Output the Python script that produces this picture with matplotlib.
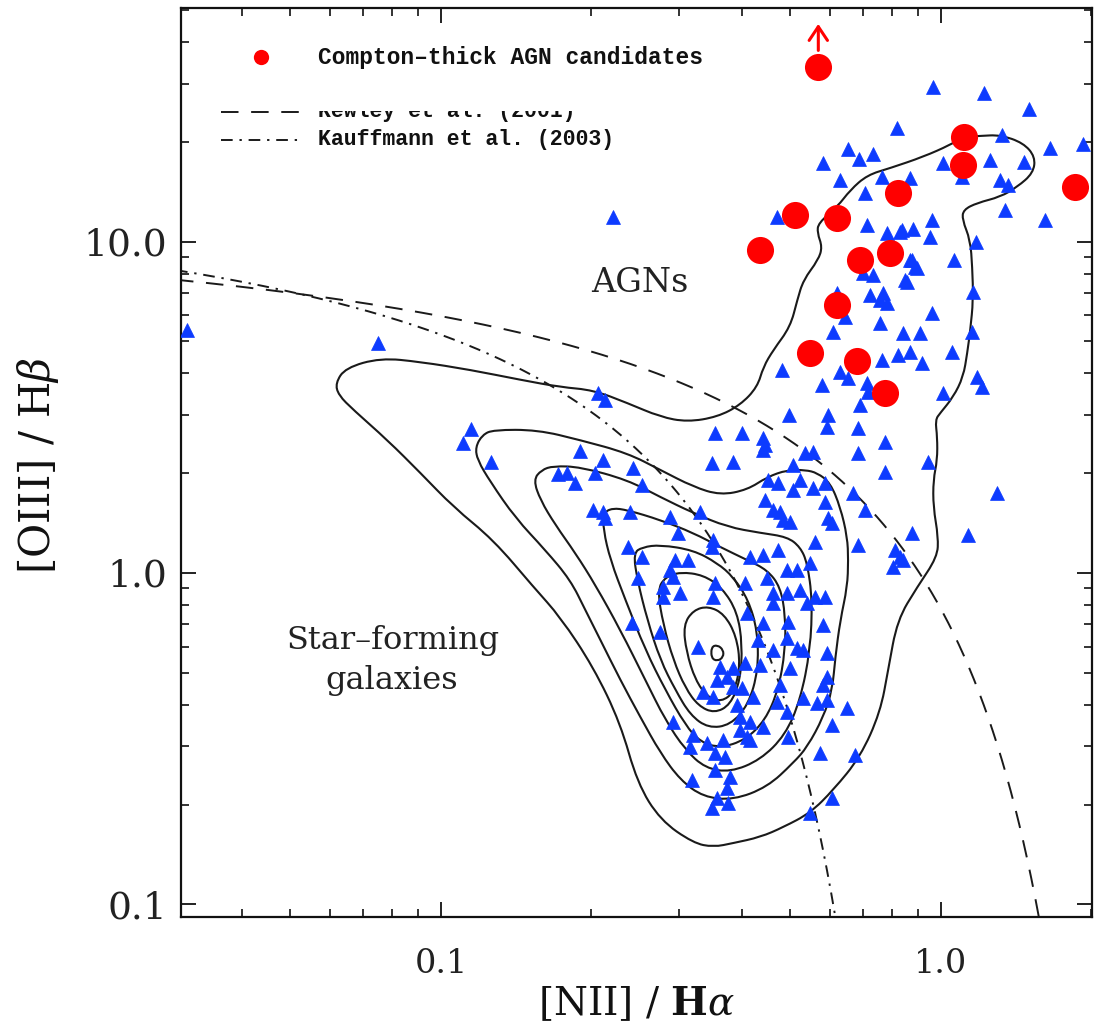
import numpy as np
import matplotlib
matplotlib.use("Agg")
import matplotlib.pyplot as plt
from matplotlib.path import Path
from matplotlib.patches import PathPatch, Rectangle
from matplotlib.ticker import LogLocator, FixedLocator, FuncFormatter, NullFormatter

plt.rcParams["mathtext.fontset"] = "dejavuserif"

# ---------------- data (log10 of the line ratios) ----------------
# comparison sample (blue triangles)
sample_log_nii = [-1.125, -0.939, -0.955, -0.899, -0.765, -0.747, -0.731, -0.721, -0.317, -0.303,
                  -0.685, -0.671, -0.451, -0.397, -0.355, -0.351, -0.355, -0.457, -0.415, -0.675,
                  -0.691, -0.615, -0.597, -0.271, -0.255, -0.295, -0.345, -0.325, -0.281, -0.295,
                  -0.255, -0.351, -0.335, -0.321, -0.315, -0.301, -0.695, -0.675, -0.671, -0.621,
                  -0.541, -0.481, -0.525, -0.455, -0.457, -0.625, -0.597, -0.251, -0.381, -0.355,
                  -0.325, -0.531, -0.505, -0.541, -0.535, -0.605, -0.307, -0.287, -0.261, -0.391,
                  -0.347, -0.451, -0.555, -0.521, -0.555, -0.455, -0.335, -0.307, -0.281, -0.251,
                  -0.617, -0.561, -0.485, -0.441, -0.415, -0.391, -0.361, -0.387, -0.355, -0.335,
                  -0.305, -0.267, -0.231, -0.235, -0.365, -0.307, -0.287, -0.275, -0.335, -0.227,
                  -0.301, -0.227, -0.235, -0.447, -0.427, -0.415, -0.397, -0.475, -0.455, -0.375,
                  -0.321, -0.327, -0.307, -0.275, -0.247, -0.227, -0.187, -0.407, -0.401, -0.381,
                  -0.355, -0.401, -0.387, -0.381, -0.535, -0.495, -0.501, -0.467, -0.435, -0.451,
                  -0.431, -0.305, -0.217, -0.241, -0.171, -0.451, -0.421, -0.497, -0.427, -0.447,
                  -0.425, -0.457, -0.217, -0.261,
                  -0.015, -0.087, -0.185, -0.135, -0.163, -0.235, 0.005, -0.201, -0.117, -0.061,
                  -0.151, -0.327, -0.147, -0.107, -0.081, -0.055, -0.017, -0.021, -0.061, -0.047,
                  -0.155, -0.135, -0.067, -0.141, -0.115, -0.107, -0.121, -0.207, -0.191, -0.017,
                  -0.121, -0.215, -0.075, -0.041,
                  0.087, 0.177, 0.123, 0.219, 0.285, 0.043, 0.099, 0.167, 0.119, 0.135,
                  0.129, 0.209, -0.077, 0.071, 0.027, -0.057, -0.051, -0.071, 0.065,
                  0.063, 0.023, -0.061, -0.085, -0.117, -0.037, -0.201, -0.185, -0.237, -0.147,
                  -0.145, 0.073, 0.083, 0.005, -0.161, -0.225, -0.227, -0.165, -0.111, -0.165,
                  -0.025, -0.111, -0.175, 0.113, -0.231, -0.151, -0.225, -0.217, -0.057, 0.055,
                  -0.165, -0.091, -0.081, -0.075, -0.095, -0.231, -0.655, -1.507]
sample_log_oiii = [0.694, 0.435, 0.392, 0.335, 0.299, 0.302, 0.272, 0.368, 0.613, 0.477,
                   0.543, 0.522, 0.423, 0.423, 0.407, 0.386, 0.371, 0.332, 0.335, 0.341,
                   0.302, 0.317, 0.266, 0.362, 0.365, 0.326, 0.281, 0.272, 0.281, 0.251,
                   0.257, 0.220, 0.190, 0.184, 0.160, 0.154, 0.190, 0.184, 0.166, 0.184,
                   0.169, 0.184, 0.121, 0.100, 0.078, 0.078, 0.048, 0.094, 0.048, 0.054,
                   0.069, 0.039, 0.039, 0.009, -0.012, -0.015, 0.009, 0.009, 0.030, -0.030,
                   -0.015, -0.030, -0.042, -0.060, -0.072, -0.072, -0.060, -0.060, -0.051, -0.072,
                   -0.151, -0.178, -0.223, -0.284, -0.287, -0.272, -0.278, -0.121, -0.151, -0.091,
                   -0.148, -0.091, -0.072, -0.157, -0.202, -0.196, -0.226, -0.232, -0.232, -0.241,
                   -0.287, -0.314, -0.338, -0.323, -0.314, -0.344, -0.347, -0.359, -0.374, -0.374,
                   -0.338, -0.389, -0.420, -0.377, -0.392, -0.383, -0.407, -0.398, -0.435, -0.450,
                   -0.465, -0.474, -0.495, -0.504, -0.450, -0.489, -0.525, -0.513, -0.504, -0.543,
                   -0.555, -0.495, -0.459, -0.543, -0.549, -0.595, -0.616, -0.625, -0.649, -0.679,
                   -0.694, -0.709, -0.679, -0.724,
                   1.467, 1.343, 1.280, 1.265, 1.250, 1.238, 1.238, 1.186, 1.195, 1.192,
                   1.147, 1.075, 1.050, 1.026, 1.029, 1.038, 1.066, 1.014, 0.945, 0.921,
                   0.906, 0.899, 0.878, 0.839, 0.845, 0.815, 0.824, 0.845, 0.773, 0.785,
                   0.755, 0.727, 0.724, 0.724,
                   1.449, 1.401, 1.322, 1.283, 1.295, 1.195, 1.247, 1.241, 1.186, 1.171,
                   1.096, 1.066, 1.035, 0.999, 0.945, 0.945, 0.924, 0.884, 0.848,
                   0.727, 0.667, 0.667, 0.658, 0.643, 0.634, 0.607, 0.589, 0.567, 0.573,
                   0.546, 0.592, 0.561, 0.543, 0.507, 0.477, 0.441, 0.438, 0.395, 0.362,
                   0.335, 0.305, 0.241, 0.241, 0.214, 0.190, 0.166, 0.151, 0.121, 0.115,
                   0.085, 0.069, 0.048, 0.039, 0.018, 0.272, 1.075, 0.733]

# Compton-thick AGN candidates (red circles); first one is a lower limit
ct_log_nii = [-0.245, 0.047, 0.045, 0.269, -0.085, -0.291, -0.207, -0.361, -0.101, -0.161,
              -0.207, -0.261, -0.167, -0.111]
ct_log_oiii = [1.527, 1.316, 1.232, 1.165, 1.147, 1.081, 1.071, 0.975, 0.966, 0.945,
               0.809, 0.664, 0.640, 0.543]
ct_lower_limit = [True] + [False] * 13

# density contours of the parent galaxy sample (outermost first)
c1_log_nii = [-1.211, -1.191, -1.121, -1.041, -0.941, -0.841, -0.761, -0.695, -0.627, -0.561,
              -0.507, -0.447, -0.401, -0.367, -0.355, -0.335, -0.301, -0.287, -0.275, -0.245,
              -0.237, -0.247, -0.245, -0.207, -0.181, -0.147, -0.101, -0.035, 0.019, 0.045,
              0.079, 0.119, 0.165, 0.189, 0.185, 0.153, 0.119, 0.073, 0.045, 0.043,
              0.059, 0.063, 0.065, 0.059, 0.053, 0.045, 0.025, -0.001, -0.011, -0.007,
              -0.007, -0.015, -0.015, -0.005, -0.007, -0.047, -0.087, -0.105, -0.121, -0.161,
              -0.215, -0.261, -0.315, -0.361, -0.415, -0.455, -0.495, -0.561, -0.607, -0.641,
              -0.695, -0.761, -0.815, -0.895, -0.975, -1.041, -1.107, -1.175, -1.205]
c1_log_oiii = [0.573, 0.619, 0.649, 0.637, 0.613, 0.583, 0.561, 0.552, 0.513, 0.471,
               0.456, 0.471, 0.507, 0.561, 0.622, 0.673, 0.743, 0.824, 0.884, 0.945,
               0.984, 1.026, 1.056, 1.105, 1.156, 1.201, 1.222, 1.256, 1.292, 1.316,
               1.319, 1.322, 1.298, 1.256, 1.207, 1.165, 1.135, 1.117, 1.096, 1.066,
               1.005, 0.924, 0.824, 0.733, 0.664, 0.592, 0.531, 0.483, 0.462, 0.410,
               0.341, 0.281, 0.199, 0.109, 0.048, -0.042, -0.142, -0.290, -0.420, -0.555,
               -0.655, -0.724, -0.767, -0.797, -0.815, -0.827, -0.815, -0.746, -0.634, -0.453,
               -0.284, -0.133, -0.042, 0.100, 0.199, 0.302, 0.401, 0.492, 0.537]
c2_log_nii = [-0.931, -0.917, -0.895, -0.807, -0.721, -0.627, -0.561, -0.495, -0.441, -0.387,
              -0.347, -0.307, -0.271, -0.247, -0.221, -0.201, -0.187, -0.185, -0.187, -0.201,
              -0.211, -0.217, -0.235, -0.267, -0.295, -0.347, -0.415, -0.475, -0.521, -0.561,
              -0.601, -0.641, -0.681, -0.711, -0.741, -0.791, -0.851, -0.901, -0.927]
c2_log_oiii = [0.380, 0.417, 0.432, 0.432, 0.401, 0.362, 0.311, 0.260, 0.235, 0.251,
               0.290, 0.311, 0.311, 0.302, 0.272, 0.199, 0.109, 0.039, -0.042, -0.142,
               -0.254, -0.353, -0.435, -0.525, -0.573, -0.646, -0.685, -0.676, -0.625, -0.543,
               -0.435, -0.323, -0.202, -0.112, -0.021, 0.069, 0.166, 0.275, 0.341]
c3_log_nii = [-0.815, -0.799, -0.775, -0.721, -0.627, -0.561, -0.495, -0.427, -0.361, -0.307,
              -0.281, -0.267, -0.257, -0.261, -0.281, -0.311, -0.361, -0.421, -0.471, -0.511,
              -0.551, -0.591, -0.641, -0.691, -0.731, -0.771, -0.801]
c3_log_oiii = [0.281, 0.311, 0.323, 0.320, 0.281, 0.229, 0.181, 0.139, 0.121, 0.109,
               0.078, 0.030, -0.081, -0.232, -0.383, -0.489, -0.564, -0.601, -0.589, -0.534,
               -0.444, -0.323, -0.172, -0.036, 0.060, 0.145, 0.220]
c4_log_nii = [-0.675, -0.657, -0.627, -0.561, -0.495, -0.441, -0.387, -0.347, -0.321, -0.311,
              -0.311, -0.325, -0.351, -0.391, -0.441, -0.481, -0.511, -0.551, -0.591, -0.631,
              -0.661, -0.675]
c4_log_oiii = [0.181, 0.196, 0.190, 0.160, 0.121, 0.078, 0.039, 0.009, -0.042, -0.127,
               -0.232, -0.353, -0.444, -0.504, -0.528, -0.510, -0.459, -0.353, -0.232, -0.081,
               0.039, 0.130]
c5_log_nii = [-0.615, -0.597, -0.561, -0.495, -0.447, -0.415, -0.385, -0.367, -0.365, -0.385,
              -0.421, -0.465, -0.501, -0.531, -0.561, -0.587, -0.607]
c5_log_oiii = [0.060, 0.078, 0.085, 0.069, 0.030, -0.012, -0.081, -0.172, -0.293, -0.398,
               -0.459, -0.468, -0.429, -0.353, -0.263, -0.142, -0.021]
c6_log_nii = [-0.567, -0.551, -0.521, -0.475, -0.437, -0.407, -0.397, -0.401, -0.421, -0.453,
              -0.485, -0.511, -0.535, -0.555]
c6_log_oiii = [-0.051, -0.012, 0.003, -0.006, -0.045, -0.118, -0.217, -0.323, -0.398, -0.423,
               -0.401, -0.347, -0.263, -0.157]
c7_log_nii = [-0.515, -0.495, -0.465, -0.433, -0.409, -0.401, -0.413, -0.439, -0.467, -0.491,
              -0.509]
c7_log_oiii = [-0.157, -0.112, -0.100, -0.124, -0.190, -0.278, -0.359, -0.389, -0.374, -0.323,
               -0.238]
c8_log_nii = [-0.459, -0.447, -0.435, -0.435, -0.447, -0.459]
c8_log_oiii = [-0.223, -0.217, -0.232, -0.254, -0.266, -0.257]

# demarcation curves: log([OIII]/Hb) = a / (log([NII]/Ha) - b) + c
kewley_coef = (0.61, 0.47, 1.19)
kauffmann_coef = (0.61, 0.05, 1.30)

legend_labels = ["Compton\u2013thick AGN candidates", "Kewley et al. (2001)", "Kauffmann et al. (2003)"]

# ---------------- figure ----------------
W, H = 1099, 1034
fig = plt.figure(figsize=(W / 100, H / 100), dpi=100)
ax = fig.add_axes([181 / W, 1 - 917 / H, (1092 - 181) / W, (917 - 8) / H])
ax.set_xscale("log")
ax.set_yscale("log")
xmin, xmax = 0.0302, 2.007
ymin, ymax = 0.0916, 50.7
ax.set_xlim(xmin, xmax)
ax.set_ylim(ymin, ymax)

line_col = "#1a1a1a"


def smooth_closed(lx, ly):
    px = 10 ** np.asarray(lx)
    py = 10 ** np.asarray(ly)
    n = len(px)
    verts, codes = [], []
    mx = lambda i, j: ((px[i] * px[j]) ** 0.5, (py[i] * py[j]) ** 0.5)
    verts.append(mx(n - 1, 0)); codes.append(Path.MOVETO)
    for i in range(n):
        j = (i + 1) % n
        verts.append((px[i], py[i])); codes.append(Path.CURVE3)
        verts.append(mx(i, j)); codes.append(Path.CURVE3)
    return Path(verts, codes)


for cx, cy in [(c1_log_nii, c1_log_oiii), (c2_log_nii, c2_log_oiii), (c3_log_nii, c3_log_oiii),
               (c4_log_nii, c4_log_oiii), (c5_log_nii, c5_log_oiii), (c6_log_nii, c6_log_oiii),
               (c7_log_nii, c7_log_oiii), (c8_log_nii, c8_log_oiii)]:
    ax.add_patch(PathPatch(smooth_closed(cx, cy), facecolor="none", edgecolor=line_col,
                           lw=1.5, zorder=2))


def demarc(coef, lo):
    a, b, c = coef
    lx = np.linspace(lo, b - 1e-3, 2000)
    ly = a / (lx - b) + c
    m = ly > np.log10(ymin) - 0.05
    return 10 ** lx[m], 10 ** ly[m]


kx, ky = demarc(kewley_coef, np.log10(xmin) - 0.01)
ax.plot(kx, ky, color=line_col, lw=1.4, ls=(0, (9, 6.5)), zorder=2)
fx, fy = demarc(kauffmann_coef, np.log10(xmin) - 0.01)
ax.plot(fx, fy, color=line_col, lw=1.4, ls=(0, (6, 3.5, 1.2, 3.5)), zorder=2)

# points
ax.plot(10 ** np.array(sample_log_nii), 10 ** np.array(sample_log_oiii), ls="none",
        marker="^", ms=10, color="#0d3bff", mec="#0d3bff", mew=0.5, zorder=3)
ax.plot(10 ** np.array(ct_log_nii), 10 ** np.array(ct_log_oiii), ls="none",
        marker="o", ms=19.5, color="#ff0000", mec="none", zorder=4)
for lx, ly, lim in zip(ct_log_nii, ct_log_oiii, ct_lower_limit):
    if lim:
        ax.annotate("", xy=(10 ** lx, 10 ** (ly + 0.13)), xytext=(10 ** lx, 10 ** (ly + 0.05)),
                    arrowprops=dict(arrowstyle="->,head_length=0.45,head_width=0.3",
                                    color="#ff0000", lw=2.2, mutation_scale=22,
                                    shrinkA=0, shrinkB=0), zorder=5)

# ---------------- legend (drawn in axes coords) ----------------
T = ax.transAxes
leg_font = dict(family="Liberation Mono", weight="bold", color="#111111")
ax.plot([0.0878], [0.946], marker="o", ms=11, color="#ff0000", mec="none", transform=T, clip_on=False)
ax.text(0.150, 0.946, legend_labels[0], transform=T, va="center", ha="left", fontsize=16.5, **leg_font)
ax.plot([0.0439, 0.1306], [0.886, 0.886], color=line_col, lw=1.4, ls=(0, (9, 6.5)), transform=T)
ax.text(0.150, 0.886, legend_labels[1], transform=T, va="center", ha="left", fontsize=15.5, **leg_font)
ax.add_patch(Rectangle((0.14, 0.8865), 0.45, 0.04, transform=T, facecolor="white",
                       edgecolor="none", zorder=6))
ax.plot([0.0439, 0.1306], [0.855, 0.855], color=line_col, lw=1.4, ls=(0, (6, 3.5, 1.2, 3.5)), transform=T)
ax.text(0.150, 0.855, legend_labels[2], transform=T, va="center", ha="left", fontsize=15.5, **leg_font)

# region labels
ax.text(0.504, 0.6975, "AGNs", transform=T, ha="center", va="center", fontsize=24,
        family="DejaVu Serif", color="#222222")
ax.text(0.2327, 0.3047, "Star\u2013forming", transform=T, ha="center", va="center", fontsize=23,
        family="DejaVu Serif", color="#222222")
ax.text(0.2316, 0.2607, "galaxies", transform=T, ha="center", va="center", fontsize=23,
        family="DejaVu Serif", color="#222222")

# ---------------- axes styling ----------------
for s in ax.spines.values():
    s.set_linewidth(1.6)
    s.set_color("#111111")
ax.xaxis.set_major_locator(FixedLocator([0.1, 1.0]))
ax.yaxis.set_major_locator(FixedLocator([0.1, 1.0, 10.0]))
ax.xaxis.set_minor_locator(LogLocator(base=10, subs=np.arange(2, 10)))
ax.yaxis.set_minor_locator(LogLocator(base=10, subs=np.arange(2, 10)))
ax.xaxis.set_minor_formatter(NullFormatter())
ax.yaxis.set_minor_formatter(NullFormatter())
ax.xaxis.set_major_formatter(FuncFormatter(lambda v, p: "%.1f" % v))
ax.yaxis.set_major_formatter(FuncFormatter(lambda v, p: "%.1f" % v))
ax.tick_params(which="both", direction="in", top=True, right=True, color="#111111")
ax.tick_params(which="major", length=11, width=1.3)
ax.tick_params(which="minor", length=5.5, width=1.2)
ax.tick_params(axis="x", which="major", pad=22)
ax.tick_params(axis="y", which="major", pad=10)
for lab in ax.get_xticklabels():
    lab.set_fontfamily("DejaVu Serif"); lab.set_fontsize(24); lab.set_color("#222222")
for lab in ax.get_yticklabels():
    lab.set_fontfamily("DejaVu Serif"); lab.set_fontsize(27); lab.set_color("#222222")

ax.set_xlabel(r"[NII] / $\mathbf{H}\alpha$", fontsize=28, family="DejaVu Serif", color="#111111",
              va="center")
ax.xaxis.set_label_coords(0.5, -0.0955)
ax.set_ylabel(r"[OIII] / H$\beta$", fontsize=30, family="DejaVu Serif", color="#111111",
              va="center")
ax.yaxis.set_label_coords(-0.157, 0.497)

fig.savefig("out.png", dpi=100)
